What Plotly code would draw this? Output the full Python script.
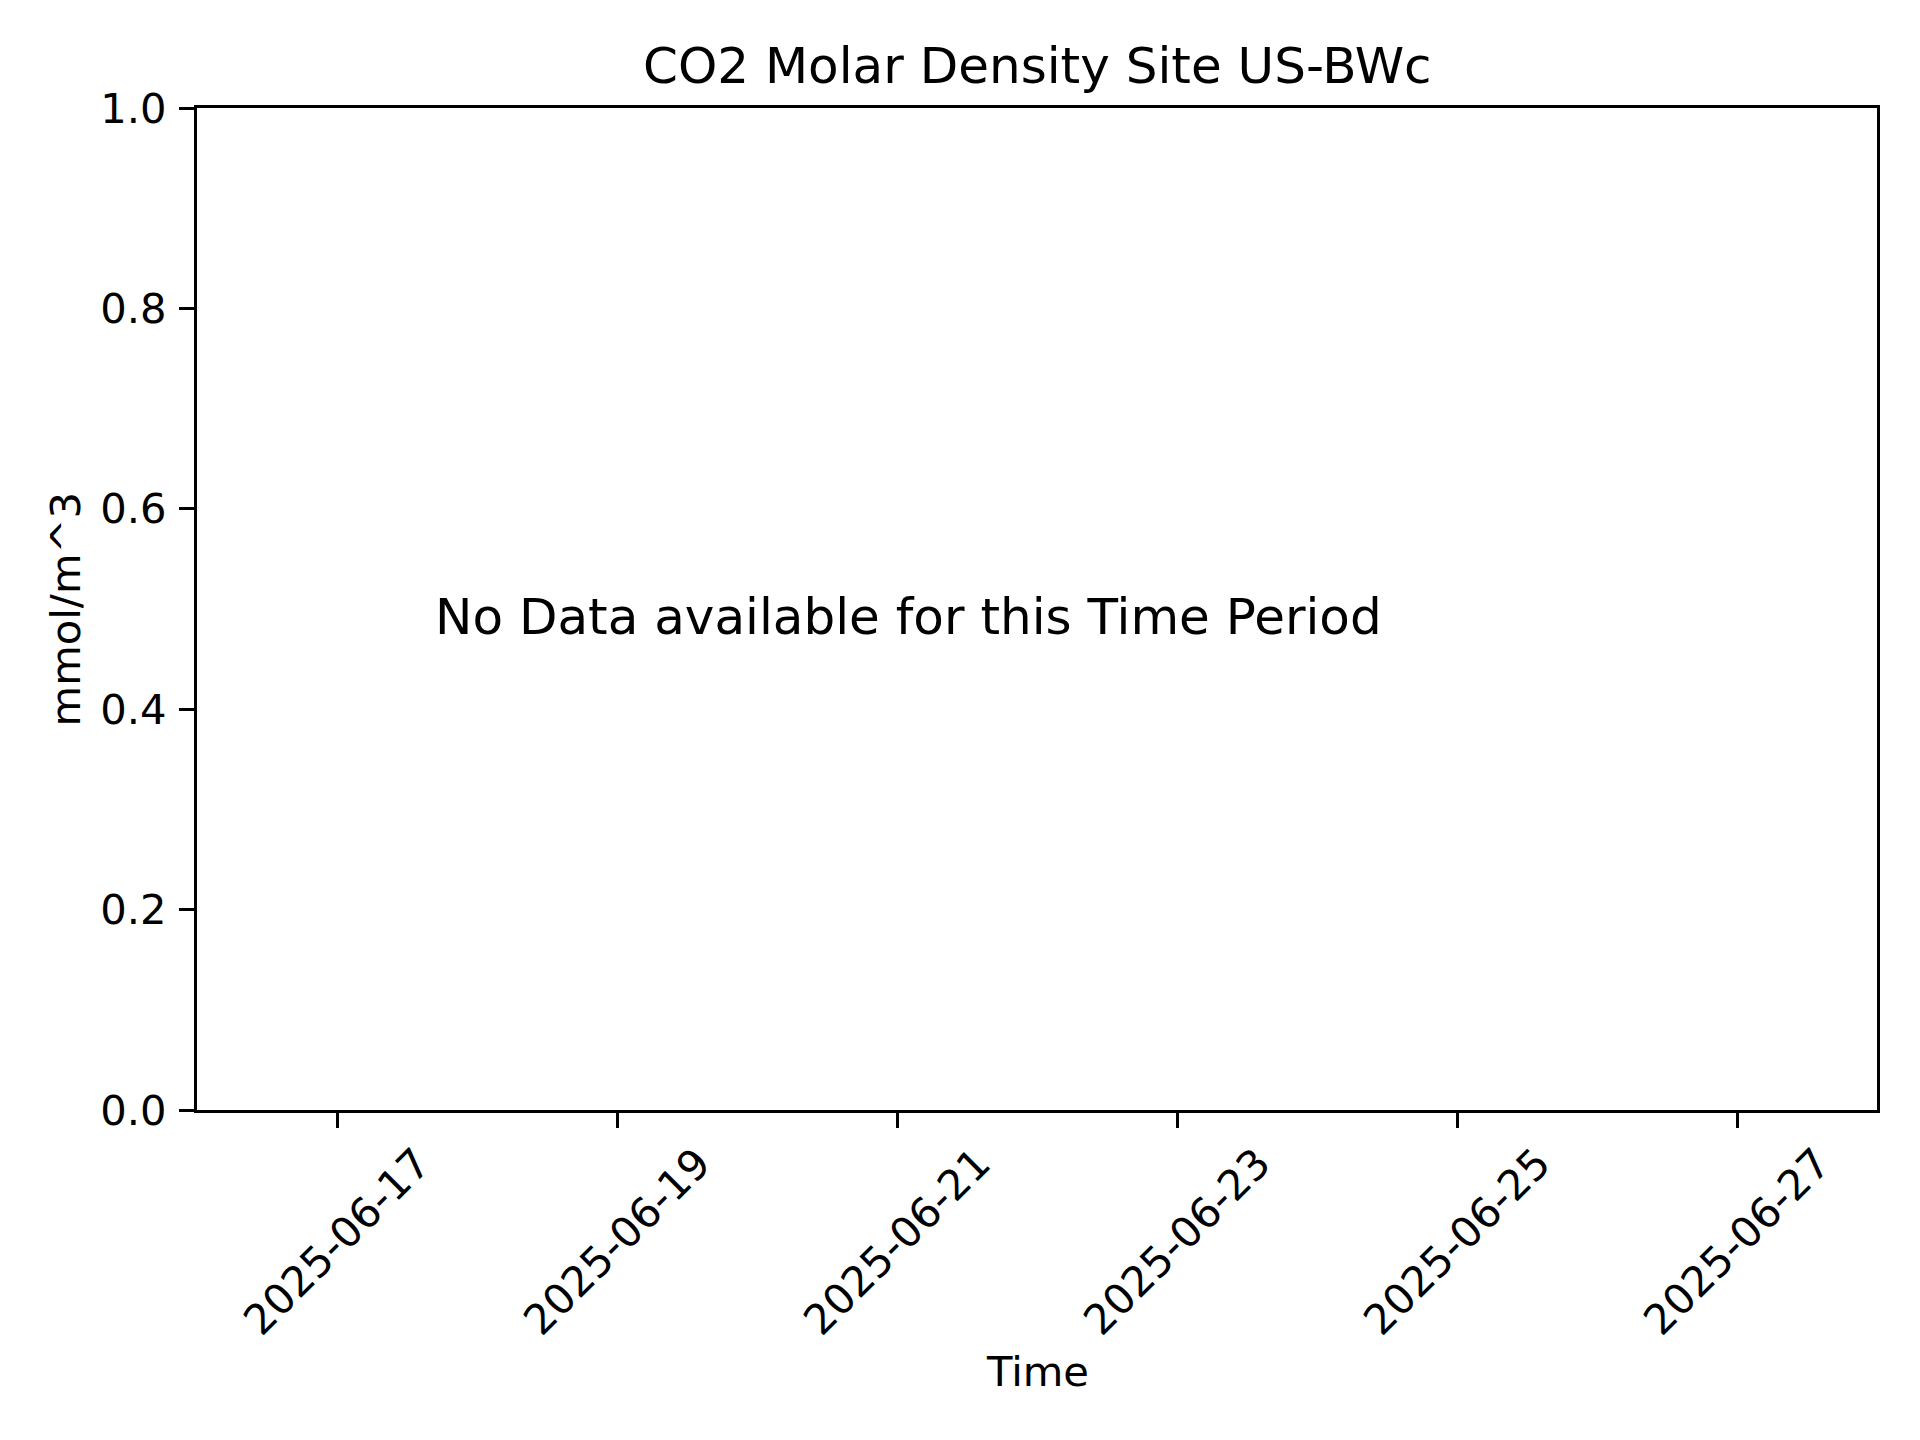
import plotly.graph_objects as go

# ---- data ----
x_range = ["2025-06-16", "2025-06-28"]
x_tick_dates = ["2025-06-17", "2025-06-19", "2025-06-21", "2025-06-23", "2025-06-25", "2025-06-27"]
x_tick_labels = ["2025-06-17", "2025-06-19", "2025-06-21", "2025-06-23", "2025-06-25", "2025-06-27"]
y_range = [0.0, 1.0]
y_tick_vals = [0.0, 0.2, 0.4, 0.6, 0.8, 1.0]
y_tick_labels = ["0.0", "0.2", "0.4", "0.6", "0.8", "1.0"]
series_x = []
series_y = []

title_text = "CO2 Molar Density Site US-BWc"
x_title = "Time"
y_title = "mmol/m^3"
no_data_text = "No Data available for this Time Period"

FONT = "DejaVu Sans"
TICK_PX = 41.7
TITLE_PX = 50
LW = 3.3

fig = go.Figure()
fig.add_trace(go.Scatter(x=series_x, y=series_y, mode="lines", showlegend=False,
                         line=dict(color="#1f77b4")))

axis_common = dict(
    showline=True, linewidth=LW, linecolor="black", mirror=True,
    ticks="outside", ticklen=15, tickwidth=LW, tickcolor="black",
    showgrid=False, zeroline=False,
    tickfont=dict(family=FONT, size=TICK_PX, color="black"),
)

# page body has an 8px default margin, so the figure is 8px smaller
fig.update_layout(
    width=1912, height=1432,
    margin=dict(l=189, r=43, t=100, b=330, pad=0),
    paper_bgcolor="white", plot_bgcolor="white",
    font=dict(family=FONT, color="black"),
    showlegend=False,
    xaxis=dict(type="date", range=x_range, tickvals=x_tick_dates,
               showticklabels=False, **axis_common),
    yaxis=dict(range=y_range, tickvals=y_tick_vals, ticktext=y_tick_labels,
               ticklabelstandoff=4, **axis_common),
)

annotations = []
for d, lbl in zip(x_tick_dates, x_tick_labels):
    annotations.append(dict(
        x=d, xref="x", y=-0.026, yref="paper", text=lbl, textangle=-45,
        xanchor="center", yanchor="top", showarrow=False,
        font=dict(family=FONT, size=TICK_PX, color="black"),
    ))

annotations += [
    dict(x=0.5, xref="paper", y=1.0422, yref="paper", text=title_text,
         xanchor="center", yanchor="middle", showarrow=False,
         font=dict(family=FONT, size=TITLE_PX, color="black")),
    dict(x=0.1407, xref="paper", y=0.4923, yref="paper", text=no_data_text,
         xanchor="left", yanchor="middle", showarrow=False,
         font=dict(family=FONT, size=TITLE_PX, color="black")),
    dict(x=0.5, xref="paper", y=-0.2611, yref="paper", text=x_title,
         xanchor="center", yanchor="middle", showarrow=False,
         font=dict(family=FONT, size=TICK_PX, color="black")),
    dict(x=-0.0783, xref="paper", y=0.5, yref="paper", text=y_title,
         textangle=-90, xanchor="center", yanchor="middle", showarrow=False,
         font=dict(family=FONT, size=TICK_PX, color="black")),
]
fig.update_layout(annotations=annotations)

fig.write_html("out.html")
